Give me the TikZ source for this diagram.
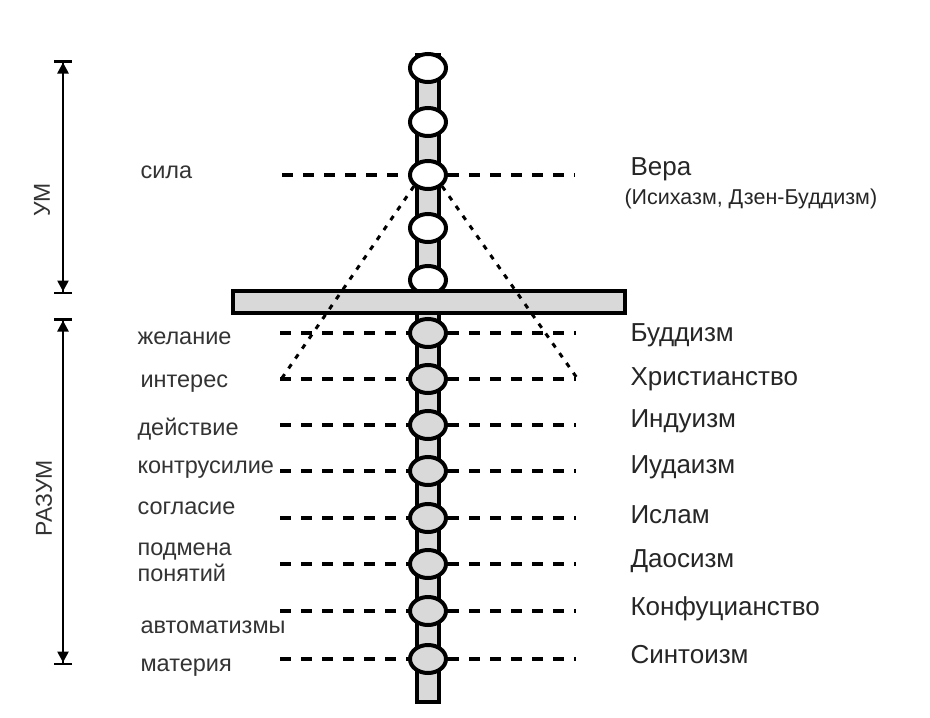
\documentclass[tikz,border=0pt]{standalone}
\usepackage{fontspec}
\setmainfont{Liberation Sans}
\usetikzlibrary{positioning, arrows.meta, shapes.geometric}
\definecolor{beadgray}{gray}{0.85}

\tikzset{
  bead/.style={ellipse, draw, line width=4pt, minimum width=36pt, minimum height=28pt, inner sep=0pt},
  dashline/.style={line width=4pt, dash pattern=on 11pt off 10pt},
  dotline/.style={line width=3pt, dash pattern=on 5pt off 7pt},
  leftlab/.style={anchor=west, font=\fontsize{23.5}{26}\selectfont, text=black!80},
  rightlab/.style={anchor=west, font=\fontsize{26}{28}\selectfont, text=black!85},
  dimline/.style={line width=2.5pt, {Bar[width=18pt]Triangle[length=11pt,width=11pt]}-{Triangle[length=11pt,width=11pt]Bar[width=18pt]}}
}

\begin{document}
\begin{tikzpicture}[x=1pt, y=-1pt]
  \useasboundingbox (0,0) rectangle (930,718);
  % column
  \draw[line width=4pt, fill=beadgray] (417,55) rectangle (439,702);
  % beads above the bar
  \foreach \y [count=\i] in {68,122,175,228,280}
    \node[bead, fill=white] (u\i) at (428,\y) {};
  % bar
  \draw[line width=4pt, fill=beadgray] (233,291) rectangle (625,313);
  % dotted cone
  \coordinate (coneL) at (282,378);
  \coordinate (coneR) at (577,378);
  \draw[dotline] (u3.south west) -- (coneL);
  \draw[dotline] (u3.south east) -- (coneR);
  % beads below the bar
  \foreach \y [count=\i] in {333,379,425,471,518,564,611,659}
    \node[bead, fill=beadgray] (d\i) at (428,\y) {};
  % dashed levels
  \draw[dashline] (282,175) -- (u3.west);
  \draw[dashline] (u3.east) -- (575,175);
  \foreach \i in {1,...,8} {
    \draw[dashline] (d\i.west) ++(-128,0) -- (d\i.west);
    \draw[dashline] (d\i.east) -- ++(128,0);
  }
  % left labels
  \node[leftlab] (sila) at (137,172) {сила};
  \node[leftlab] (zhel) at (134,338) {желание};
  \node[leftlab] (inter) at (137,384) {интерес};
  \node[leftlab] (deist) at (134,429) {действие};
  \node[leftlab] (kontr) at (134,470) {контрусилие};
  \node[leftlab] (sogl) at (134,508) {согласие};
  \node[leftlab, align=left] (podm) at (134,562) {подмена\\понятий};
  \node[leftlab] (avto) at (137,627) {автоматизмы};
  \node[leftlab] (mater) at (137,668) {материя};
  % right labels
  \node[rightlab] (vera) at (627,169) {Вера};
  \node[anchor=west, font=\fontsize{21.5}{24}\selectfont, text=black!85] (isih) at (621,199) {(Исихазм, Дзен-Буддизм)};
  \node[rightlab] (budd) at (627,335) {Буддизм};
  \node[rightlab] (hrist) at (627,379) {Христианство};
  \node[rightlab] (ind) at (627,421) {Индуизм};
  \node[rightlab] (iud) at (627,467) {Иудаизм};
  \node[rightlab] (isl) at (627,515) {Ислам};
  \node[rightlab] (dao) at (627,561) {Даосизм};
  \node[rightlab] (konf) at (627,609) {Конфуцианство};
  \node[rightlab] (sint) at (627,655) {Синтоизм};
  % dimension arrows
  \coordinate (umtop) at (63,60);
  \coordinate (umbot) at (63,294);
  \coordinate (ratop) at (63,318);
  \coordinate (rabot) at (63,665);
  \draw[dimline] (umtop) -- (umbot);
  \draw[dimline] (ratop) -- (rabot);
  \node[rotate=90, font=\fontsize{23}{25}\selectfont, text=black!80] (um) at (42,200) {УМ};
  \node[rotate=90, font=\fontsize{23}{25}\selectfont, text=black!80] (razum) at (44,498) {РАЗУМ};
\end{tikzpicture}
\end{document}
